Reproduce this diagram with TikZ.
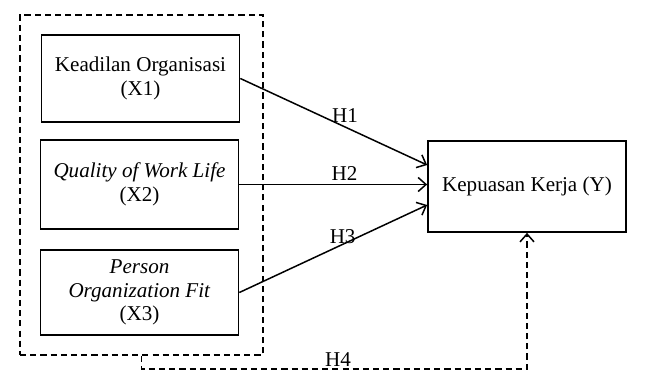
\documentclass[tikz,border=0pt]{standalone}
\usepackage{fontspec}
\usetikzlibrary{arrows.meta}
\setmainfont{Liberation Serif}
\tikzset{
	varbox/.style={draw, line width=1pt, align=center, minimum width=3.96cm, inner sep=2pt},
	grpbox/.style={draw, line width=0.9pt, dash pattern=on 3.5pt off 2.3pt, minimum width=4.86cm, minimum height=6.8cm},
	hlabel/.style={above, inner sep=2pt},
}
\begin{document}
\begin{tikzpicture}[x=0.02cm, y=-0.02cm, font=\fontsize{12}{13.5}\selectfont, line width=0.85pt, >={Straight Barb[length=4.5pt, width=8pt]}]
	\useasboundingbox (0,0) rectangle (645,371);

	\node[grpbox] (grp) at (141.5,185) {};
	\node[varbox, minimum height=1.74cm] (x1) at (140.5,78.5) {Keadilan Organisasi\\(X1)};
	\node[varbox, minimum height=1.78cm] (x2) at (139.5,184.5) {\textit{Quality of Work Life}\\(X2)};
	\node[varbox, minimum height=1.70cm] (x3) at (139.5,292.5) {\textit{Person}\\\textit{Organization Fit}\\(X3)};
	\node[varbox, minimum height=1.82cm] (y) at (527,186.5) {Kepuasan Kerja (Y)};

	\draw [->] (x1.east) -- node[hlabel, pos=0.56] {H1} ([yshift=0.43cm]y.west);
	\draw [->] (x2.east) -- node[hlabel, pos=0.56] {H2} (x2.east -| y.west);
	\draw [->] (x3.east) -- node[hlabel, pos=0.55, inner sep=0pt] {H3} ([yshift=-0.37cm]y.west);
	\draw [->, dash pattern=on 3.5pt off 2.3pt] (grp.south) -- ++(0,13) -| node[hlabel, pos=0.255, inner sep=1pt] {H4} (y.south);
\end{tikzpicture}
\end{document}
